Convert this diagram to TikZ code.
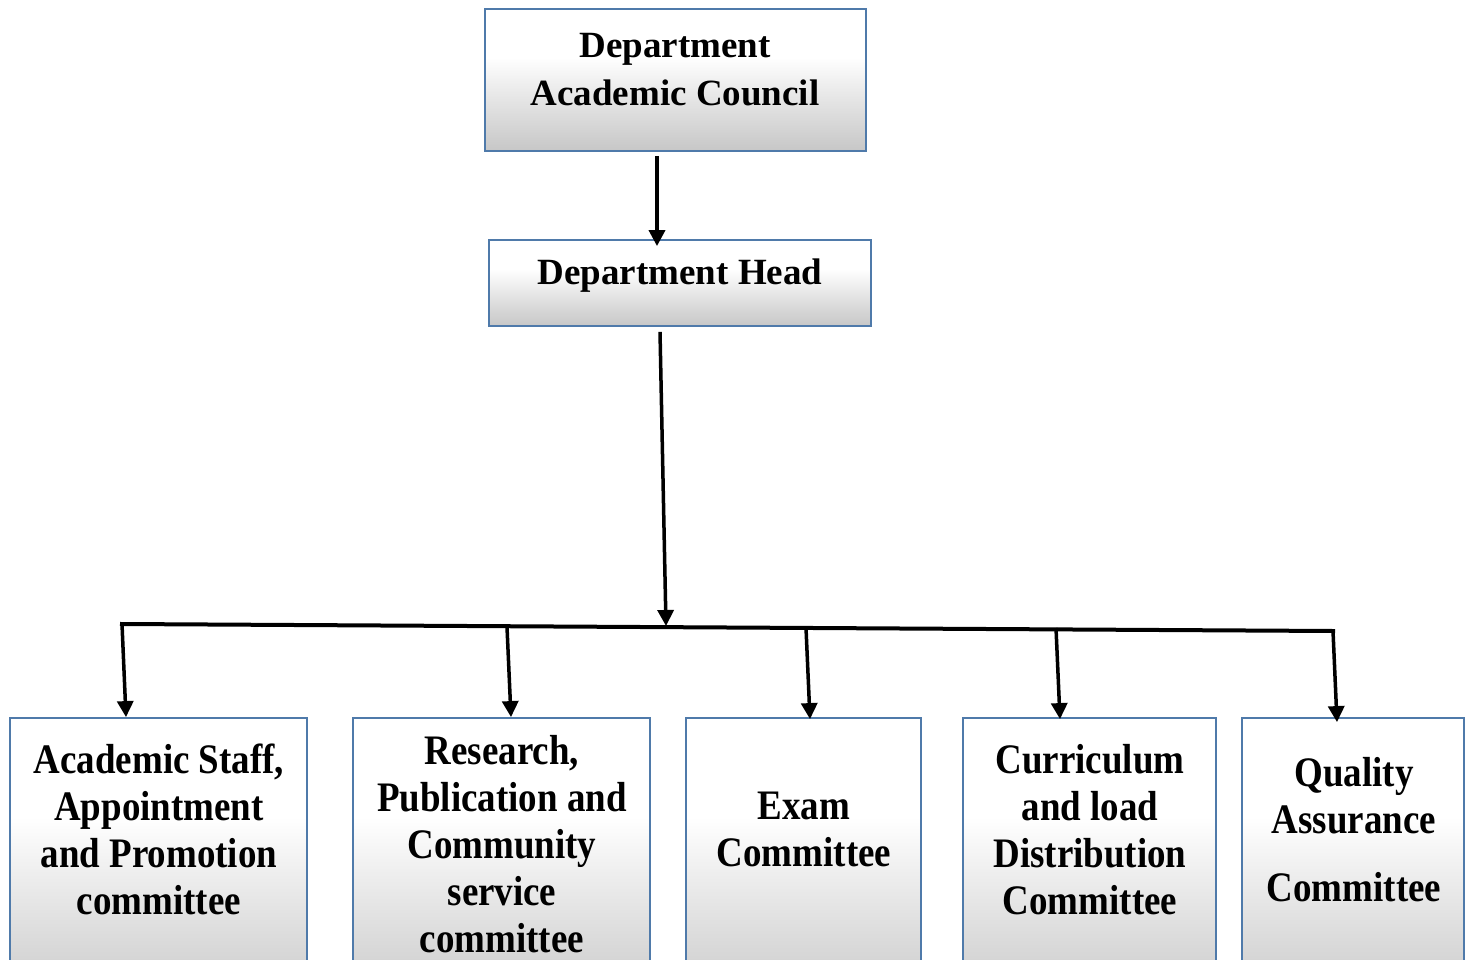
\documentclass[tikz,border=0pt]{standalone}
\usepackage{fontspec}
\setmainfont{Liberation Serif}
\newfontfamily\tallfont{Liberation Serif}[FakeStretch=0.88]
\usetikzlibrary{arrows.meta}
\definecolor{boxedge}{RGB}{79,122,170}
\pgfdeclareverticalshading{boxshade}{100bp}{color(0bp)=(black!22); color(25bp)=(black!22); color(45bp)=(black!9); color(58bp)=(white); color(100bp)=(white)}
\tikzset{
  box/.style={draw=boxedge, line width=1.8pt, shading=boxshade, inner sep=0pt},
  toptext/.style={font=\fontsize{37}{48}\selectfont\bfseries, align=center, inner sep=0pt},
  lowtext/.style={font=\tallfont\fontsize{42}{47}\selectfont\bfseries, align=center, inner sep=0pt},
  link/.style={line width=3.5pt, -{Triangle[length=16pt,width=16pt]}},
  bus/.style={line width=4pt, line cap=rect}
}
\begin{document}
\begin{tikzpicture}[x=1pt,y=-1pt]
\useasboundingbox (0,0) rectangle (1472,960);
\clip (0,0) rectangle (1472,960);
\fill[white] (0,0) rectangle (1472,960);

% boxes
\node[box, minimum width=381pt, minimum height=142pt] (dac) at (675.5,80) {};
\node[box, minimum width=382pt, minimum height=86pt] (head) at (680,283) {};
\node[box, minimum width=297pt, minimum height=292pt] (c1) at (158.5,864) {};
\node[box, minimum width=297pt, minimum height=292pt] (c2) at (501.5,864) {};
\node[box, minimum width=235pt, minimum height=292pt] (c3) at (803.5,864) {};
\node[box, minimum width=253pt, minimum height=292pt] (c4) at (1089.5,864) {};
\node[box, minimum width=222pt, minimum height=292pt] (c5) at (1353,864) {};

% texts
\node[toptext] (tdac) at (675,70) {Department\\Academic Council};
\node[toptext] (thead) at (680,276) {Department Head};
\node[lowtext] (t1) at (159,829) {Academic Staff,\\Appointment\\and Promotion\\committee};
\node[lowtext] (t2) at (502,844) {Research,\\Publication and\\Community\\service\\committee};
\node[lowtext] (t3) at (804,829) {Exam\\Committee};
\node[lowtext] (t4) at (1090,830) {Curriculum\\and load\\Distribution\\Committee};
\node[lowtext] (t5) at (1354,830) {Quality\\Assurance\\[21pt]Committee};

% bus coordinates
\coordinate (busL) at (122,624);
\coordinate (j2) at (507,627);
\coordinate (hub) at (666,626);
\coordinate (j3) at (806,628);
\coordinate (j4) at (1056,628);
\coordinate (busR) at (1333,631);

% connectors
\draw[link] ([xshift=-18.5pt,yshift=-4pt]dac.south) -- ([xshift=-23pt,yshift=-7pt]head.north);
\draw[link] ([xshift=-20pt,yshift=-5pt]head.south) -- (hub);
\draw[bus] (busL) -- (busR);
\draw[link] (busL) -- ([xshift=-32.5pt]c1.north);
\draw[link] (j2) -- ([xshift=9.5pt]c2.north);
\draw[link] (j3) -- ([xshift=6.5pt,yshift=-2pt]c3.north);
\draw[link] (j4) -- ([xshift=-29.5pt,yshift=-2pt]c4.north);
\draw[link] (busR) -- ([xshift=-16pt,yshift=-5pt]c5.north);
\end{tikzpicture}
\end{document}
